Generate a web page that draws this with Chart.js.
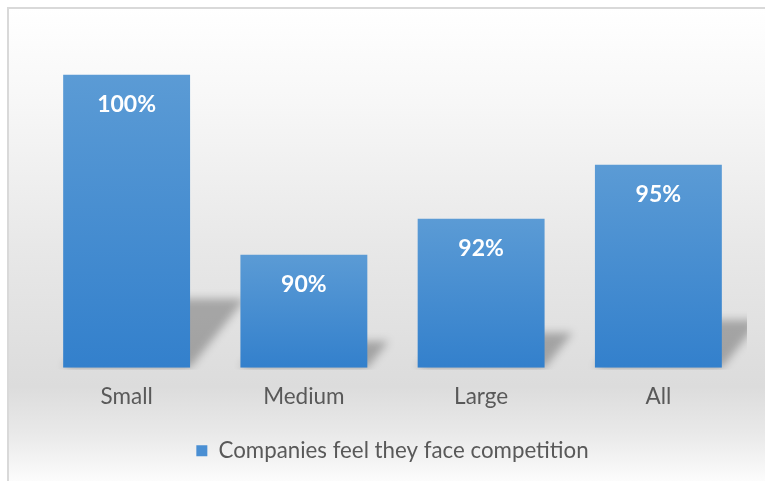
<!DOCTYPE html>
<html>
<head>
<meta charset="utf-8">
<script src="https://cdn.jsdelivr.net/npm/chart.js@4"></script>
<style>
  html, body { margin: 0; padding: 0; background: #fff; }
  #wrap { width: 765px; height: 481px; }
</style>
</head>
<body>
<div id="wrap"><canvas id="chart" width="765" height="481"></canvas></div>
<script>
var categories = ["Small", "Medium", "Large", "All"];
var shares = [100, 90, 92, 95];
var seriesName = "Companies feel they face competition";
var axisMin = 83.73;
var axisMax = 101.1;

var textGray = "#595959";
var barTop = "#5b9bd5";
var barBottom = "#3380cc";

function barFill(context) {
  var chart = context.chart;
  if (!chart.chartArea || context.dataIndex == null) return barTop;
  var y = chart.scales.y;
  var top = y.getPixelForValue(shares[context.dataIndex]);
  var base = y.getPixelForValue(axisMin);
  var g = chart.ctx.createLinearGradient(0, top, 0, base);
  g.addColorStop(0, barTop);
  g.addColorStop(1, barBottom);
  return g;
}

// panel background + thin frame
var panelPlugin = {
  id: "panel",
  beforeDraw: function (chart) {
    var ctx = chart.ctx;
    var w = chart.width, h = chart.height;
    ctx.save();
    var g = ctx.createLinearGradient(0, 8, 0, h);
    g.addColorStop(0, "#ffffff");
    g.addColorStop(0.2, "#f7f7f7");
    g.addColorStop(0.5, "#e8e8e8");
    g.addColorStop(0.8, "#dcdcdc");
    g.addColorStop(0.9, "#e9e9e9");
    g.addColorStop(1, "#fcfcfc");
    ctx.fillStyle = g;
    ctx.fillRect(8, 8, w - 8, h - 8);
    ctx.strokeStyle = "#d9d9d9";
    ctx.lineWidth = 2;
    ctx.beginPath();
    ctx.moveTo(8, h);
    ctx.lineTo(8, 8);
    ctx.lineTo(w, 8);
    ctx.stroke();
    ctx.restore();
  }
};

// slanted soft shadow falling behind each bar
var shadowPlugin = {
  id: "barShadow",
  beforeDatasetsDraw: function (chart) {
    var ctx = chart.ctx;
    var area = chart.chartArea;
    var meta = chart.getDatasetMeta(0);
    ctx.save();
    ctx.beginPath();
    ctx.rect(area.left, area.top, area.right - area.left, area.bottom - area.top + 2);
    ctx.clip();
    ctx.filter = "blur(4px)";
    ctx.fillStyle = "rgba(0,0,0,0.27)";
    meta.data.forEach(function (bar) {
      var half = bar.width / 2;
      var hgt = (bar.base - bar.y) * 0.235;
      var dx = hgt * 0.8;
      ctx.beginPath();
      ctx.moveTo(bar.x - half, bar.base);
      ctx.lineTo(bar.x + half, bar.base);
      ctx.lineTo(bar.x + half + dx, bar.base - hgt);
      ctx.lineTo(bar.x - half + dx, bar.base - hgt);
      ctx.closePath();
      ctx.fill();
    });
    ctx.restore();
  }
};

// value labels inside the top of each bar
var valueLabelPlugin = {
  id: "valueLabels",
  afterDatasetsDraw: function (chart) {
    var ctx = chart.ctx;
    var meta = chart.getDatasetMeta(0);
    ctx.save();
    ctx.fillStyle = "#ffffff";
    ctx.font = "bold 23px Lato";
    ctx.textAlign = "center";
    ctx.textBaseline = "middle";
    meta.data.forEach(function (bar, i) {
      ctx.fillText(shares[i] + "%", bar.x, bar.y + 30);
    });
    ctx.restore();
  }
};

new Chart(document.getElementById("chart"), {
  type: "bar",
  data: {
    labels: categories,
    datasets: [
      {
        label: seriesName,
        data: shares,
        base: axisMin,
        backgroundColor: barFill,
        borderWidth: 0,
        categoryPercentage: 0.716,
        barPercentage: 1
      }
    ]
  },
  options: {
    responsive: false,
    animation: false,
    layout: { padding: { top: 55, left: 38, right: 18, bottom: 9 } },
    plugins: {
      legend: {
        position: "bottom",
        labels: {
          color: textGray,
          font: { family: "Lato", size: 22.3 },
          boxWidth: 11,
          boxHeight: 11,
          padding: 13,
          generateLabels: function () {
            return [{ text: seriesName, fillStyle: "#4a8fd3", strokeStyle: "#4a8fd3", lineWidth: 0, fontColor: textGray }];
          }
        }
      },
      tooltip: { enabled: false }
    },
    scales: {
      x: {
        grid: { display: false, drawTicks: false },
        border: { display: false },
        ticks: { color: textGray, font: { family: "Lato", size: 22.5 }, padding: 16 }
      },
      y: {
        display: false,
        min: axisMin,
        max: axisMax
      }
    }
  },
  plugins: [panelPlugin, shadowPlugin, valueLabelPlugin]
});
</script>
</body>
</html>
